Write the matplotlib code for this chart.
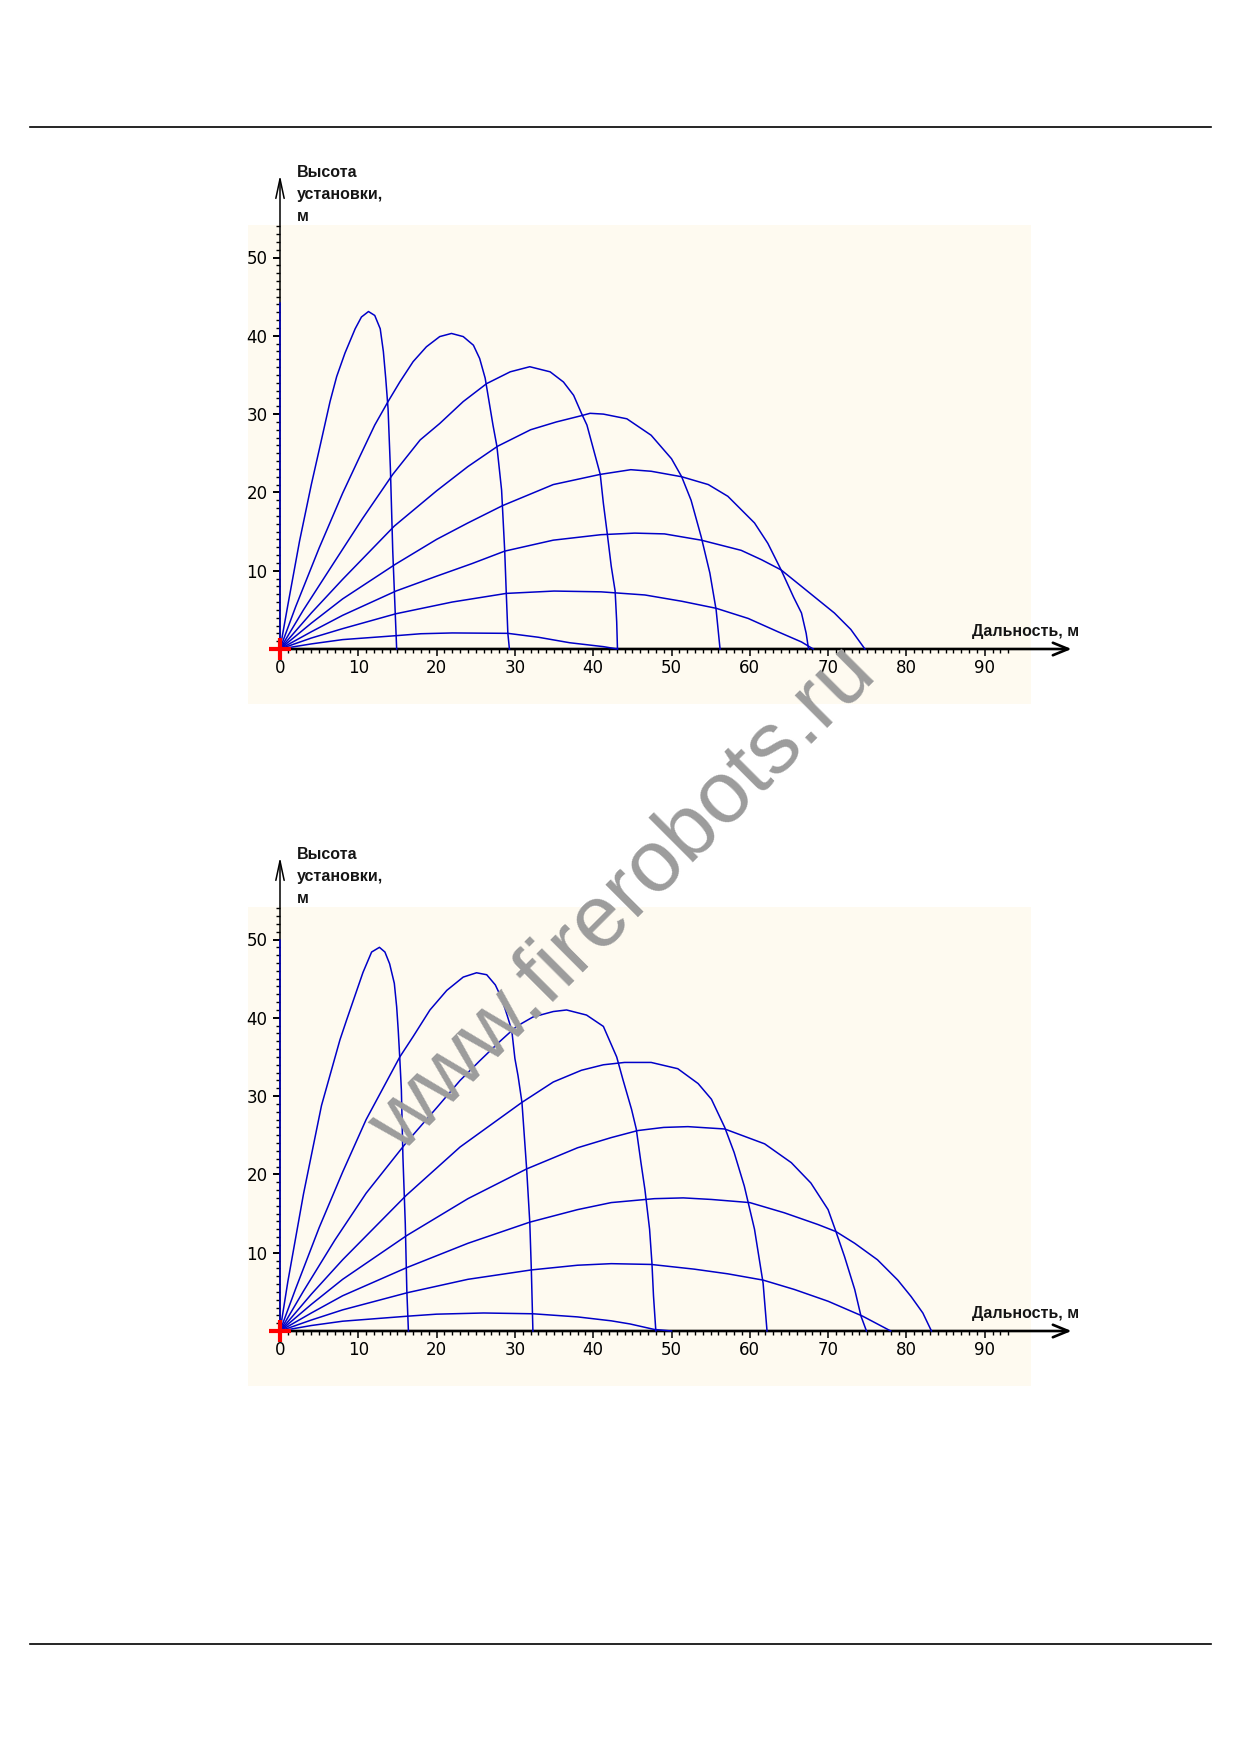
import matplotlib
matplotlib.use('Agg')
import matplotlib.pyplot as plt
from matplotlib.lines import Line2D
from matplotlib.ticker import FixedLocator
from matplotlib import font_manager

# ---- upper chart: jet trajectories for barrel angles 80..10 deg (metres)
c1_a80_x = [0, 1.0, 2.5, 4.0, 5.2, 6.39, 7.24, 8.3, 9.6, 10.4, 11.3, 12.1, 12.8, 13.2, 13.5, 13.8, 14.1, 14.4, 14.7, 14.9]
c1_a80_y = [0, 5.6, 13.8, 21.0, 26.3, 31.6, 34.8, 37.8, 40.9, 42.4, 43.1, 42.6, 40.9, 38.0, 34.6, 30.7, 23.0, 12.5, 5.0, 0]
c1_a70_x = [0, 2.0, 5.0, 8.0, 10.2, 12.1, 13.8, 15.3, 17.0, 18.7, 20.4, 21.9, 23.4, 24.7, 25.5, 26.2, 26.7, 27.2, 27.7, 28.3, 28.7, 28.9, 29.1, 29.3]
c1_a70_y = [0, 5.4, 12.9, 19.9, 24.6, 28.6, 31.6, 34.1, 36.7, 38.6, 39.9, 40.3, 39.9, 38.8, 37.1, 34.6, 31.6, 28.6, 25.9, 20.3, 12.5, 7.1, 2.0, 0]
c1_a60_x = [0, 3.0, 7.0, 10.5, 14.4, 17.9, 20.4, 23.4, 26.4, 29.4, 31.9, 34.5, 36.2, 37.5, 38.5, 39.2, 40.9, 41.3, 41.8, 42.3, 42.8, 43.0, 43.1]
c1_a60_y = [0, 5.0, 11.2, 16.6, 22.3, 26.7, 28.8, 31.6, 33.9, 35.4, 36.05, 35.4, 34.1, 32.4, 30.1, 28.6, 22.3, 18.6, 14.7, 10.6, 7.4, 3.5, 0]
c1_a50_x = [0, 4.0, 8.0, 14.6, 20.0, 24.0, 27.8, 32.0, 35.3, 38.5, 39.6, 41.3, 44.3, 47.4, 50.0, 51.3, 52.5, 53.8, 54.9, 55.7, 56.2]
c1_a50_y = [0, 4.6, 8.9, 15.7, 20.2, 23.3, 25.9, 28.0, 29.0, 29.8, 30.1, 30.0, 29.4, 27.3, 24.3, 22.0, 19.0, 14.3, 9.7, 5.0, 0]
c1_a40_x = [0, 4.0, 8.0, 14.7, 20.0, 24.0, 28.4, 34.9, 40.9, 44.8, 47.4, 51.3, 54.7, 57.2, 60.6, 62.3, 64.0, 65.6, 66.6, 67.2, 67.5]
c1_a40_y = [0, 3.3, 6.4, 10.8, 14.0, 16.1, 18.3, 21.0, 22.3, 22.9, 22.7, 22.0, 21.0, 19.5, 16.1, 13.5, 10.1, 6.6, 4.6, 2.0, 0]
c1_a30_x = [0, 4.0, 8.0, 14.8, 20.0, 24.5, 28.7, 34.9, 41.0, 45.3, 49.1, 53.8, 58.9, 61.5, 64.0, 66.6, 68.7, 70.8, 72.9, 74.7]
c1_a30_y = [0, 2.2, 4.3, 7.4, 9.3, 10.9, 12.5, 13.9, 14.6, 14.8, 14.7, 13.9, 12.6, 11.4, 10.1, 8.0, 6.3, 4.6, 2.5, 0]
c1_a20_x = [0, 4.0, 8.0, 14.8, 22.0, 28.9, 35.0, 41.0, 46.6, 51.3, 55.7, 59.8, 63.6, 66.6, 68.1]
c1_a20_y = [0, 1.4, 2.6, 4.5, 6.0, 7.1, 7.4, 7.3, 6.9, 6.1, 5.2, 3.9, 2.2, 0.9, 0]
c1_a10_x = [0, 4.0, 8.0, 14.8, 18.0, 22.0, 29.1, 33.0, 37.0, 41.3, 43.1]
c1_a10_y = [0, 0.65, 1.2, 1.7, 1.95, 2.05, 2.0, 1.5, 0.8, 0.3, 0]
c1_vertical = 44.2   # height of the straight-up jet

# ---- lower chart
c2_a80_x = [0, 1.0, 3.0, 5.3, 7.66, 8.5, 9.6, 10.6, 11.7, 12.7, 13.4, 14.0, 14.6, 14.9, 15.1, 15.3, 15.5, 15.7, 16.0, 16.2, 16.4]
c2_a80_y = [0, 6.3, 17.5, 28.8, 37.2, 39.7, 42.9, 45.8, 48.4, 49.0, 48.4, 46.9, 44.4, 41.4, 38.4, 34.8, 30.8, 22.2, 13.7, 5.1, 0]
c2_a70_x = [0, 2.0, 5.0, 8.0, 11.0, 15.3, 17.0, 19.15, 21.3, 23.4, 25.1, 26.4, 27.5, 28.3, 29.0, 29.6, 30.0, 30.4, 30.9, 31.5, 31.9, 32.1, 32.3]
c2_a70_y = [0, 5.4, 13.2, 20.3, 27.0, 35.0, 37.6, 41.0, 43.5, 45.2, 45.75, 45.5, 44.2, 42.5, 40.35, 38.4, 34.8, 32.6, 29.2, 20.7, 13.9, 7.8, 0]
c2_a60_x = [0, 3.0, 7.0, 11.0, 16.0, 20.0, 23.0, 25.5, 28.1, 30.2, 32.3, 34.9, 36.6, 39.15, 41.3, 43.0, 43.8, 44.9, 45.5, 46.1, 46.6, 47.2, 47.5, 47.7, 48.0]
c2_a60_y = [0, 5.1, 11.6, 17.6, 23.9, 28.5, 32.0, 34.5, 37.0, 38.9, 40.1, 40.8, 41.0, 40.35, 38.9, 35.0, 32.1, 28.3, 25.8, 21.5, 18.1, 13.0, 8.7, 4.5, 0]
c2_a50_x = [0, 4.0, 8.0, 16.1, 23.0, 30.9, 34.9, 38.5, 41.3, 44.0, 47.4, 50.8, 53.4, 55.1, 56.8, 58.0, 59.3, 60.6, 61.7, 62.2]
c2_a50_y = [0, 4.7, 9.1, 17.3, 23.5, 29.2, 31.8, 33.3, 34.0, 34.3, 34.3, 33.5, 31.6, 29.6, 26.0, 22.8, 18.5, 13.0, 6.1, 0]
c2_a40_x = [0, 4.0, 8.0, 16.2, 24.0, 31.5, 38.0, 42.3, 45.7, 49.0, 52.1, 56.8, 61.9, 65.3, 67.8, 70.0, 71.0, 72.1, 73.4, 74.2, 74.9]
c2_a40_y = [0, 3.4, 6.6, 12.2, 16.9, 20.7, 23.4, 24.7, 25.6, 26.0, 26.1, 25.8, 23.9, 21.5, 18.9, 15.5, 12.7, 9.5, 5.3, 1.9, 0]
c2_a30_x = [0, 4.0, 8.0, 16.2, 24.0, 31.9, 38.0, 42.3, 47.8, 51.5, 55.1, 60.0, 64.4, 68.7, 71.0, 73.4, 76.3, 78.9, 80.6, 82.1, 83.2]
c2_a30_y = [0, 2.3, 4.5, 8.1, 11.2, 13.9, 15.5, 16.4, 16.9, 17.0, 16.8, 16.4, 15.1, 13.6, 12.7, 11.2, 9.1, 6.5, 4.4, 2.3, 0]
c2_a20_x = [0, 4.0, 8.0, 16.3, 24.0, 32.1, 38.0, 42.3, 47.4, 52.9, 57.2, 61.7, 65.7, 70.0, 74.4, 78.0]
c2_a20_y = [0, 1.4, 2.7, 4.9, 6.6, 7.8, 8.4, 8.6, 8.5, 7.9, 7.3, 6.5, 5.3, 3.8, 1.9, 0]
c2_a10_x = [0, 4.0, 8.0, 16.4, 20.0, 26.0, 32.3, 38.0, 42.3, 44.7, 47.8, 50.0]
c2_a10_y = [0, 0.7, 1.25, 1.9, 2.15, 2.3, 2.2, 1.8, 1.3, 0.9, 0.2, 0]
c2_vertical = 50.0

x_major = list(range(0, 91, 10))
x_minor = [v for v in range(1, 94) if v % 10]
y_major = list(range(10, 51, 10))
y_minor = [v for v in range(1, 55) if v % 10]

Y_LABEL = ['Высота', 'установки,', 'м']
X_LABEL = 'Дальность, м'
WATERMARK = 'www.firerobots.ru'

W, H = 1239, 1754
SCALE = 7.83          # px per metre
ORIGIN_X = 280        # px
XMIN, XMAX = -4.1, 95.9
YMIN, YMAX = -7.0, 54.1
BLUE = '#0000c8'
BG = '#fefaf0'

installed = {f.name for f in font_manager.fontManager.ttflist}
TICK_FONT = 'Liberation Sans Narrow' if 'Liberation Sans Narrow' in installed else 'DejaVu Sans'
LABEL_FONT = 'Liberation Sans'

fig = plt.figure(figsize=(W / 100, H / 100), dpi=100)


def add_chart(axis_y_px, curves, vertical_top):
    left = (ORIGIN_X + XMIN * SCALE) / W
    bottom = 1 - (axis_y_px - YMIN * SCALE) / H
    ax = fig.add_axes([left, bottom, (XMAX - XMIN) * SCALE / W, (YMAX - YMIN) * SCALE / H])
    ax.set_xlim(XMIN, XMAX)
    ax.set_ylim(YMIN, YMAX)
    ax.set_facecolor(BG)
    for side in ['top', 'right', 'left', 'bottom']:
        ax.spines[side].set_visible(False)
    ax.spines['left'].set_position(('data', 0))
    ax.spines['bottom'].set_position(('data', 0))

    ax.xaxis.set_major_locator(FixedLocator(x_major))
    ax.xaxis.set_minor_locator(FixedLocator(x_minor))
    ax.yaxis.set_major_locator(FixedLocator(y_major))
    ax.yaxis.set_minor_locator(FixedLocator(y_minor))
    ax.tick_params(axis='x', which='major', direction='out', length=5, width=1.1, pad=2.5,
                   labelsize=12, labelfontfamily=TICK_FONT)
    ax.tick_params(axis='x', which='minor', direction='out', length=2.8, width=1.0)
    ax.tick_params(axis='y', which='major', direction='out', length=5, width=1.4, pad=4,
                   labelsize=12, labelfontfamily=TICK_FONT)
    ax.tick_params(axis='y', which='minor', direction='out', length=2.8, width=1.0)

    # axes with open arrow heads
    ax.annotate('', xy=(101.1, 0), xytext=(0, 0), annotation_clip=False,
                arrowprops=dict(arrowstyle='->,head_length=1.1,head_width=0.45',
                                lw=1.9, color='black', shrinkA=0, shrinkB=0), zorder=2)
    ax.annotate('', xy=(0, 60.5), xytext=(0, 0), annotation_clip=False,
                arrowprops=dict(arrowstyle='->,head_length=1.4,head_width=0.3',
                                lw=1.1, color='black', shrinkA=0, shrinkB=0), zorder=2)

    ax.plot([0, 0], [0, vertical_top], color=BLUE, lw=1.1, zorder=3)
    for xs, ys in curves:
        ax.plot(xs, ys, color=BLUE, lw=1.1, zorder=3, solid_joinstyle='round')

    ax.plot(0, 0, marker='+', ms=16, mew=3, color='red', zorder=5, clip_on=False)

    for i, line in enumerate(Y_LABEL):
        ax.text(2.2, 60.3 - i * 2.8, line, fontsize=11.5, fontweight='bold',
                family=LABEL_FONT, color='#151515', va='baseline', ha='left')
    ax.text(88.4, 1.7, X_LABEL, fontsize=11.5, fontweight='bold',
            family=LABEL_FONT, color='#151515', va='baseline', ha='left')
    return ax


add_chart(649, [(c1_a80_x, c1_a80_y), (c1_a70_x, c1_a70_y), (c1_a60_x, c1_a60_y),
                (c1_a50_x, c1_a50_y), (c1_a40_x, c1_a40_y), (c1_a30_x, c1_a30_y),
                (c1_a20_x, c1_a20_y), (c1_a10_x, c1_a10_y)], c1_vertical)
add_chart(1331, [(c2_a80_x, c2_a80_y), (c2_a70_x, c2_a70_y), (c2_a60_x, c2_a60_y),
                 (c2_a50_x, c2_a50_y), (c2_a40_x, c2_a40_y), (c2_a30_x, c2_a30_y),
                 (c2_a20_x, c2_a20_y), (c2_a10_x, c2_a10_y)], c2_vertical)

# page rules
for y_px in [127, 1644]:
    fig.add_artist(Line2D([30 / W, 1211 / W], [1 - y_px / H] * 2, color='black', lw=1.2))

fig.text(624 / W, 1 - 900 / H, WATERMARK, fontsize=63, family=LABEL_FONT, color='#9c9c9c',
         rotation=45, rotation_mode='anchor', ha='center', va='center', zorder=10)

fig.savefig('out.png', dpi=100)
